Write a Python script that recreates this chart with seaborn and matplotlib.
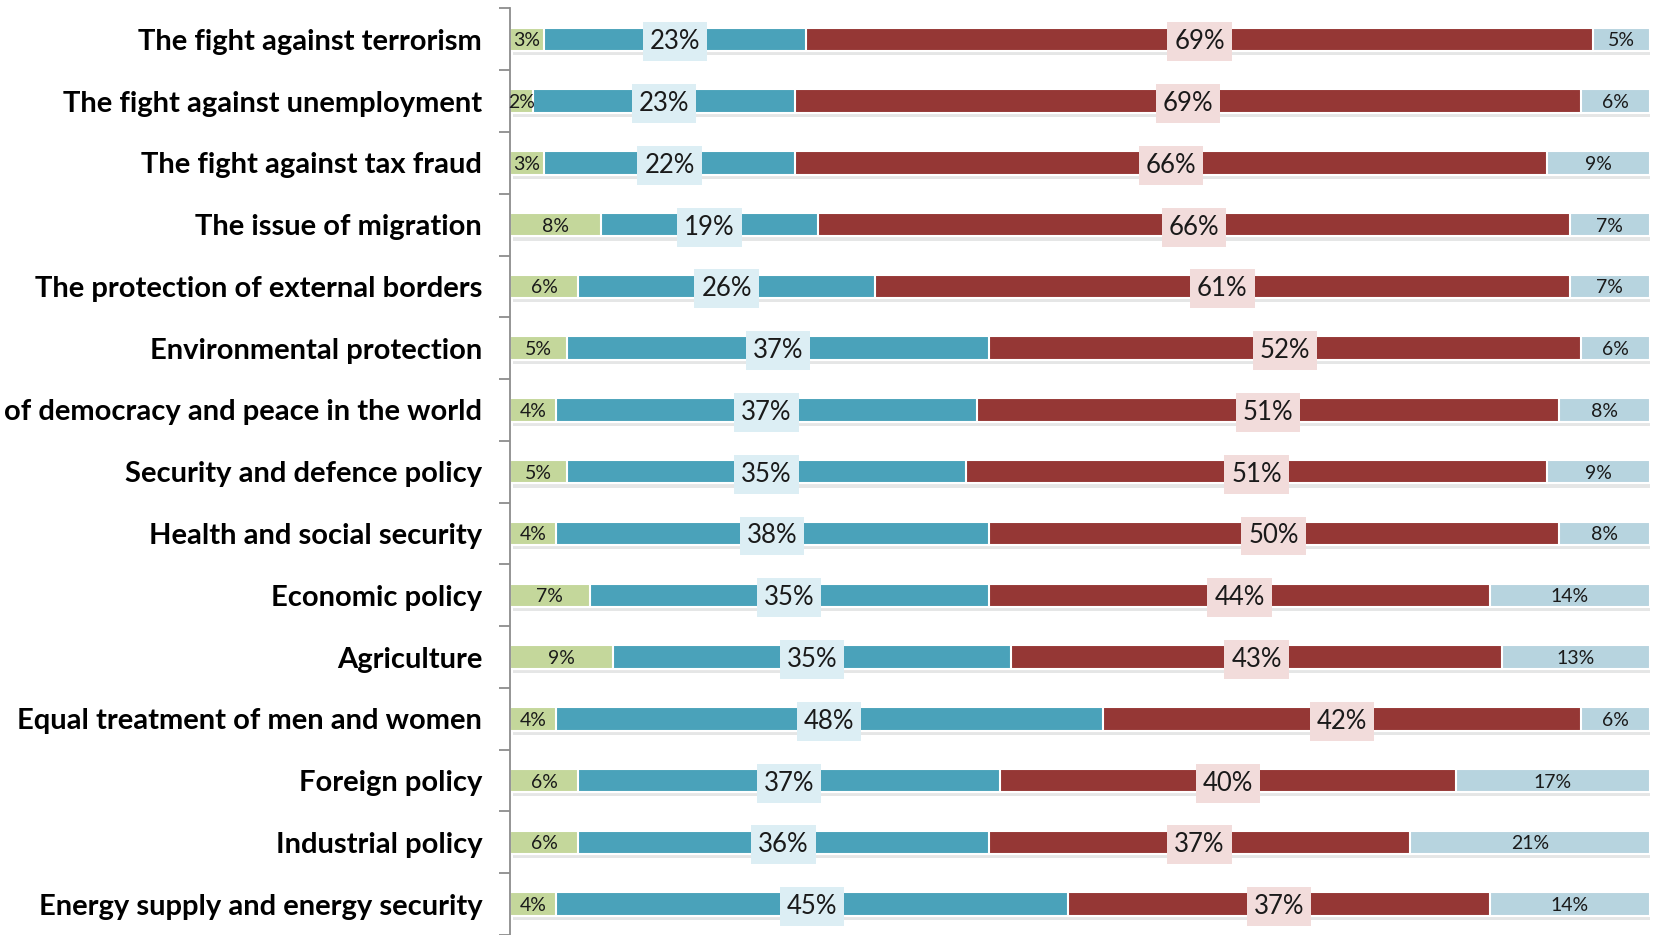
import matplotlib.pyplot as plt
import matplotlib.patheffects as pe
import seaborn as sns
import numpy as np

categories = [
    "The fight against terrorism",
    "The fight against unemployment",
    "The fight against tax fraud",
    "The issue of migration",
    "The protection of external borders",
    "Environmental protection",
    "of democracy and peace in the world",
    "Security and defence policy",
    "Health and social security",
    "Economic policy",
    "Agriculture",
    "Equal treatment of men and women",
    "Foreign policy",
    "Industrial policy",
    "Energy supply and energy security",
]
green_vals = [3, 2, 3, 8, 6, 5, 4, 5, 4, 7, 9, 4, 6, 6, 4]
teal_vals = [23, 23, 22, 19, 26, 37, 37, 35, 38, 35, 35, 48, 37, 36, 45]
red_vals = [69, 69, 66, 66, 61, 52, 51, 51, 50, 44, 43, 42, 40, 37, 37]
light_vals = [5, 6, 9, 7, 7, 6, 8, 9, 8, 14, 13, 6, 17, 21, 14]

colors = ["#c4d79b", "#4aa2ba", "#953735", "#b7d4df"]
box_colors = {1: "#dceef4", 2: "#f2dcdb"}

sns.set_theme(style="white")
plt.rcParams['font.family'] = ['Lato', 'DejaVu Sans']

fig = plt.figure(figsize=(16.58, 9.35), dpi=100)
ax = fig.add_axes([0.3076, 0.0, 0.995 - 0.3076, 0.991])

series = [np.array(green_vals), np.array(teal_vals), np.array(red_vals), np.array(light_vals)]
cum = np.cumsum(series, axis=0)

# draw back to front so each layer covers the next
for i in range(3, -1, -1):
    n_before = len(ax.patches)
    sns.barplot(x=cum[i], y=categories, color=colors[i], width=0.38,
                orient='h', ax=ax, edgecolor='white', linewidth=1.5,
                saturation=1)
    if i == 3:
        for p in ax.patches[n_before:]:
            p.set_path_effects([pe.SimplePatchShadow(offset=(2, -3), alpha=0.13),
                                pe.Normal()])

# value labels
for i in range(4):
    starts = cum[i] - series[i]
    for j, v in enumerate(series[i]):
        xc = starts[j] + v / 2
        if i in (1, 2):
            ax.text(xc, j, f"{v}%", ha='center', va='center_baseline', fontsize=18.5,
                    color='#1a1a1a',
                    bbox=dict(boxstyle='square,pad=0.27', fc=box_colors[i], ec='none'))
        else:
            ax.text(xc, j, f"{v}%", ha='center', va='center_baseline', fontsize=14,
                    color='#1a1a1a')

ax.set_xlim(0, 100)
ax.set_ylim(14.35, -0.5)
ax.set_xticks([])
ax.set_xlabel('')
ax.set_ylabel('')
for s in ['top', 'right', 'bottom']:
    ax.spines[s].set_visible(False)
ax.spines['left'].set_color('#8c8c8c')
ax.spines['left'].set_linewidth(1.3)

ax.set_yticks(range(len(categories)))
ax.set_yticklabels(categories, fontsize=21, fontweight='bold', color='black')
ax.tick_params(axis='y', which='major', left=False, length=0, pad=20)
ax.set_yticks(np.arange(-0.5, len(categories), 1), minor=True)
ax.tick_params(axis='y', which='minor', left=True, length=8, width=1.3,
               color='#8c8c8c', direction='out')

fig.savefig('out.png', dpi=100)
